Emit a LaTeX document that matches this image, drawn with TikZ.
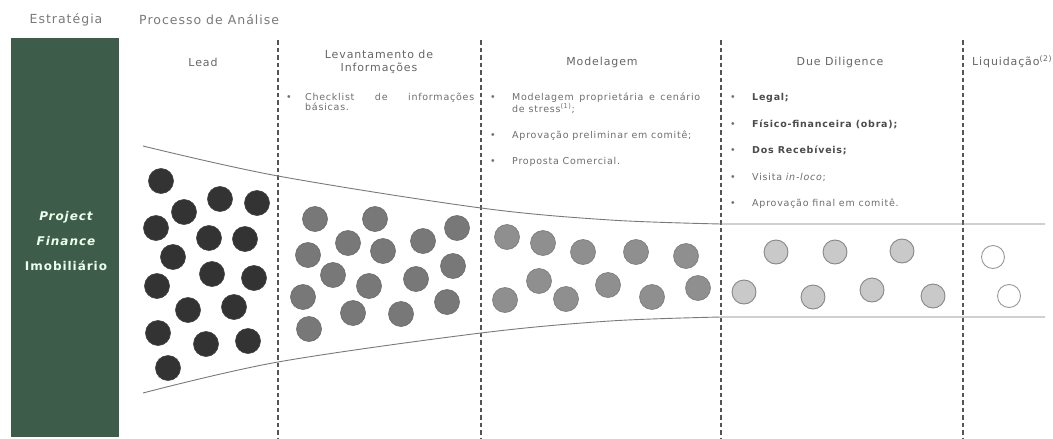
\documentclass[tikz,border=0pt]{standalone}
\usepackage{fontspec}
\setmainfont{DejaVu Sans}[LetterSpace=8]
\definecolor{pfgreen}{HTML}{3E5C4A}
\definecolor{txtgray}{HTML}{6E6E6E}
\definecolor{hdrgray}{HTML}{666666}
\definecolor{ttlgray}{HTML}{7A7A7A}
\definecolor{linegray}{HTML}{7A7A7A}
\definecolor{dashgray}{HTML}{555555}
\tikzset{
  ttl/.style={font=\fontsize{12.5}{14}\selectfont, text=ttlgray, inner sep=0pt},
  hdr/.style={font=\fontsize{11}{13.5}\selectfont, text=hdrgray, inner sep=0pt, align=center},
  bul/.style={font=\fontsize{9.5}{10}\selectfont, text=txtgray, inner sep=0pt, anchor=base},
  item/.style={font=\fontsize{9.5}{10}\selectfont, text=txtgray, inner sep=0pt, anchor=north west},
  boxtxt/.style={font=\fontsize{12}{13}\selectfont\bfseries, text=white!92!green, inner sep=0pt},
  sep/.style={draw=dashgray, line width=1.1pt, dash pattern=on 4.5pt off 3pt},
  funnel/.style={draw=linegray, line width=0.9pt},
  ca/.style={fill=black!80, draw=black!75, line width=0.6pt},
  cb/.style={fill=black!53, draw=black!58, line width=0.6pt},
  cc/.style={fill=black!44, draw=black!52, line width=0.6pt},
  cd/.style={fill=black!21, draw=black!47, line width=0.9pt},
  ce/.style={fill=white, draw=black!40, line width=0.9pt},
}
\begin{document}
\begin{tikzpicture}[x=1pt,y=-1pt]
\useasboundingbox (0,0) rectangle (1053,439);
\fill[white] (0,0) rectangle (1053,439);

% titles
\node[ttl] (estr) at (66,20) {Estratégia};
\node[ttl, anchor=west] (proc) at (139,20) {Processo de Análise};

% green box
\fill[pfgreen] (11,38) rectangle (119,437);
\node[boxtxt] (pf1) at (66,217) {\itshape Project};
\node[boxtxt] (pf2) at (66,241) {\itshape Finance};
\node[boxtxt] (pf3) at (66,266) {Imobiliário};

% separators
\foreach \x/\n in {278/a,481/b,721/c,963/d}{
  \coordinate (s\n top) at (\x,40);
  \coordinate (s\n bot) at (\x,439);
  \draw[sep] (s\n top) -- (s\n bot);
}

% funnel
\draw[funnel] plot[smooth, tension=0.55] coordinates {(143,146) (278,176) (481,208) (610,220) (721,224)} -- (1045,224);
\draw[funnel] plot[smooth, tension=0.55] coordinates {(143,393) (278,362) (481,333) (610,321) (721,317)} -- (1045,317);

% headers
\node[hdr] (h1) at (203,62) {Lead};
\node[hdr] (h2) at (379,62) {Levantamento de\\Informações};
\node[hdr] (h3) at (602,62) {Modelagem};
\node[hdr] (h4) at (840,62) {Due Diligence};
\node[hdr, anchor=west] (h5) at (972,62) {Liquidação\textsuperscript{(2)}};

% column 2 items
\node[bul] (b21) at (289,100) {•};
\node[item, text width=169pt, align=justify] (t21) at (305,93) {Checklist de informações\linebreak básicas.};

% column 3 items
\node[bul] (b31) at (493,100) {•};
\node[item, text width=188pt, align=justify] (t31) at (512,93) {Modelagem proprietária e cenário\linebreak de stress\textsuperscript{(1)};};
\node[bul] (b32) at (493,138) {•};
\node[item] (t32) at (512,131) {Aprovação preliminar em comitê;};
\node[bul] (b33) at (493,164) {•};
\node[item] (t33) at (512,157) {Proposta Comercial.};

% column 4 items
\node[bul] (b41) at (733,100) {•};
\node[item, text=black!70] (t41) at (752,93) {\bfseries Legal;};
\node[bul] (b42) at (733,127) {•};
\node[item, text=black!70] (t42) at (752,120) {\bfseries Físico-financeira (obra);};
\node[bul] (b43) at (733,153) {•};
\node[item, text=black!70] (t43) at (752,146) {\bfseries Dos Recebíveis;};
\node[bul] (b44) at (733,180) {•};
\node[item] (t44) at (752,173) {Visita \textit{in-loco};};
\node[bul] (b45) at (733,206) {•};
\node[item] (t45) at (752,199) {Aprovação final em comitê.};

% circles: Lead
\foreach \x/\y in {161/181,184/212,220/199,257/203,156/228,209/238,245/239,173/257,212/274,254/278,157/286,188/310,234/307,158/333,206/344,248/341,168/368}
  \draw[ca] (\x,\y) circle[radius=12.5pt];
% Levantamento
\foreach \x/\y in {315/219,375/219,457/228,348/243,383/251,423/241,308/255,333/275,369/286,416/279,453/266,303/297,353/313,401/314,447/302,309/329}
  \draw[cb] (\x,\y) circle[radius=12.5pt];
% Modelagem
\foreach \x/\y in {507/237,543/243,583/252,636/252,686/256,505/300,539/281,566/299,608/285,652/297,698/288}
  \draw[cc] (\x,\y) circle[radius=12.5pt];
% Due Diligence
\foreach \x/\y in {776/252,835/252,902/251,744/292,813/297,872/290,933/296}
  \draw[cd] (\x,\y) circle[radius=12pt];
% Liquidacao
\foreach \x/\y in {993/257,1009/296}
  \draw[ce] (\x,\y) circle[radius=11.5pt];
\end{tikzpicture}
\end{document}
